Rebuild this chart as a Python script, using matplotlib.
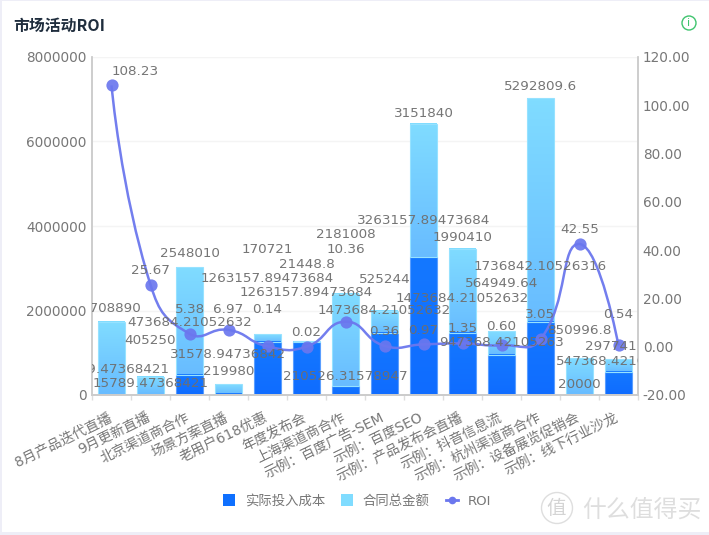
# plot.py - market activity ROI chart, stacked bars with a smooth ROI line
import matplotlib
matplotlib.use("Agg")
import matplotlib.pyplot as plt
import numpy as np
from matplotlib.colors import LinearSegmentedColormap
from matplotlib.lines import Line2D
from matplotlib.patches import Circle, PathPatch, Rectangle
from matplotlib.path import Path
from matplotlib.transforms import ScaledTranslation

plt.rcParams['font.family'] = ['DejaVu Sans', 'Noto Sans CJK SC']

# Data
categories = ["8月产品迭代直播", "9月更新直播", "北京渠道商合作", "场景方案直播", "老用户618优惠",
              "年度发布会", "上海渠道商合作", "示例：百度广告-SEM", "示例：百度SEO", "示例：产品发布会直播",
              "示例：抖音信息流", "示例：杭州渠道商合作", "示例：设备展览促销会", "示例：线下行业沙龙"]
actual_cost = [15789.47368421, 15789.47368421, 473684.21052632, 31578.94736842,
               1263157.89473684, 1263157.89473684, 210526.31578947, 1473684.21052632,
               3263157.89473684, 1473684.21052632, 947368.42105263, 1736842.10526316,
               20000, 547368.42105263]
contract_total = [1708890, 405250, 2548010, 219980, 170721, 21448.8, 2181008, 525244,
                  3151840, 1990410, 564949.64, 5292809.6, 850996.8, 297741]
roi = [108.23, 25.67, 5.38, 6.97, 0.14, 0.02, 10.36, 0.36, 0.97, 1.35, 0.60, 3.05, 42.55, 0.54]
left_ticks = [0, 2000000, 4000000, 6000000, 8000000]
right_ticks = [-20, 0, 20, 40, 60, 80, 100, 120]

# Label lift above the anchor, in pixels (labels in the original are shoved around)
lift_contract = [14, 37, 14, 13, 85, 76, 59, 31, 10, 11, 48, 11, 28, 13]
lift_actual = [25, 11, 52, 39, 63, 49, 10, 22, 37, 34, 12, 55, 10, 10]
lift_roi = [14, 14, 24, 20, 37, 14, 72, 14, 14, 15, 19, 25, 14, 31]

TEXT = '#6e6e6e'
LINE = '#6b77ee'
W, H = 709, 535
PX = 72 / 100


def gradient_bars(ax, bars, top_color, bottom_color, edge):
    cmap = LinearSegmentedColormap.from_list('bar', [top_color, bottom_color])
    for bar in bars:
        bar.set_facecolor('none')
        bar.set_edgecolor(edge)
        bar.set_linewidth(0.8)
        x0, y0 = bar.get_x(), bar.get_y()
        x1, y1 = x0 + bar.get_width(), y0 + bar.get_height()
        ax.imshow(np.linspace(0, 1, 64).reshape(-1, 1), cmap=cmap, aspect='auto',
                  extent=(x0, x1, y0, y1), origin='upper', zorder=1.5)
        bar.set_zorder(2)


def smooth_path(ax, xs, ys, smooth=0.5):
    # same idea as the echarts smooth line: control points along the neighbours' chord
    pts = ax.transData.transform(np.column_stack([xs, ys]))
    n = len(pts)
    verts = [pts[0]]
    codes = [Path.MOVETO]
    out_cp = pts[0]
    for i in range(1, n):
        p = pts[i]
        if i < n - 1:
            prev_len = np.hypot(*(p - pts[i - 1]))
            next_len = np.hypot(*(pts[i + 1] - p))
            v = (pts[i + 1] - pts[i - 1]) * smooth
            total = prev_len + next_len
            in_cp = p - v * prev_len / total
            next_out = p + v * next_len / total
        else:
            in_cp = p
            next_out = p
        verts += [out_cp, in_cp, p]
        codes += [Path.CURVE4, Path.CURVE4, Path.CURVE4]
        out_cp = next_out
    return Path(ax.transData.inverted().transform(np.array(verts)), codes)


fig = plt.figure(figsize=(W / 100, H / 100), dpi=100, facecolor='#eeeef7')
fig.add_artist(Rectangle((2 / W, 3 / H), 1, 1 - 4 / H, transform=fig.transFigure,
                         facecolor='white', edgecolor='none', zorder=-5))

ax = fig.add_axes([92 / W, (H - 395) / H, 546 / W, 338 / H])
ax.set_facecolor('none')
ax2 = ax.twinx()
ax2.set_facecolor('none')

x = np.arange(len(categories))
actual = np.array(actual_cost)
contract = np.array(contract_total)

dark = ax.bar(x, actual, width=0.667)
light = ax.bar(x, contract, width=0.667, bottom=actual)
gradient_bars(ax, light, '#80dcff', '#68bcff', '#96e2ff')
gradient_bars(ax, dark, '#1478ff', '#0f6cff', '#5a9eff')

ax.set_xlim(-0.5, len(categories) - 0.5)
ax.set_ylim(0, 8000000)
ax2.set_ylim(-20, 120)

ax.set_yticks(left_ticks)
ax.set_yticklabels([str(v) for v in left_ticks])
ax2.set_yticks(right_ticks)
ax2.set_yticklabels(['%.2f' % v for v in right_ticks])
ax.tick_params(axis='y', length=0, pad=4, labelsize=9.8, labelcolor='#777777')
ax2.tick_params(axis='y', length=0, pad=3.5, labelsize=9.8, labelcolor='#777777')

ax.set_xticks(x)
ax.set_xticklabels(categories, rotation=26, ha='right', rotation_mode='anchor',
                   fontsize=10, color='#777777')
ax.set_xticks(np.arange(len(categories) + 1) - 0.5, minor=True)
ax.tick_params(axis='x', which='major', length=0, pad=11)
ax.tick_params(axis='x', which='minor', length=3.6, color='#dddddd', width=1)
shift = ScaledTranslation(-4 / 100, 0, fig.dpi_scale_trans)
for lab in ax.get_xticklabels():
    lab.set_transform(lab.get_transform() + shift)
ax.set_axisbelow(True)
ax.grid(axis='y', color='#f4f4f4', linewidth=1)

for a in (ax, ax2):
    a.spines['top'].set_visible(False)
    a.spines['left'].set_color('#cccccc')
    a.spines['right'].set_color('#cccccc')
    a.spines['bottom'].set_color('#cccccc')
    a.spines['left'].set_linewidth(1.1)
    a.spines['right'].set_linewidth(1.1)
    a.spines['bottom'].set_linewidth(1.4)

# ROI line on the right axis
ax2.add_patch(PathPatch(smooth_path(ax2, x, roi), facecolor='none', edgecolor=LINE,
                        linewidth=1.8, alpha=0.95, zorder=3))
ax2.plot(x, roi, linestyle='none', marker='o', markersize=8.8, color=LINE,
         markeredgewidth=0, alpha=0.92, zorder=4)


def add_label(xi, yi, lift, text, coords, dx=0):
    # clipped to the plot area, long labels are cut at both axes in the original
    ax2.annotate(text, xy=(xi, yi), xycoords=coords, xytext=(dx * PX, lift * PX),
                 textcoords='offset points', ha='center', va='center', fontsize=9.7,
                 color=TEXT, alpha=0.95, annotation_clip=False, clip_on=True, zorder=6)


for i in x:
    # last contract label and first ROI label sit off centre in the original
    add_label(i, actual[i] + contract[i], lift_contract[i], f'{contract[i]:.10g}', ax.transData,
              dx=-8 if i == len(x) - 1 else 0)
    add_label(i, actual[i], lift_actual[i], ('%.8f' % actual[i]).rstrip('0').rstrip('.'), ax.transData)
    add_label(i, roi[i], lift_roi[i], '%.2f' % roi[i], ax2.transData, dx=24 if i == 0 else 0)

# Legend
handles = [Rectangle((0, 0), 1, 1, facecolor='#0f70ff', edgecolor='none'),
           Rectangle((0, 0), 1, 1, facecolor='#80dcff', edgecolor='none'),
           Line2D([0], [0], color=LINE, linewidth=2, marker='o', markersize=5.5,
                  markeredgewidth=0)]
fig.legend(handles, ['实际投入成本', '合同总金额', 'ROI'], ncol=3, frameon=False,
           loc='center', bbox_to_anchor=(357 / W, (H - 501) / H), fontsize=9.6,
           labelcolor='#777777', handlelength=0.9, handleheight=0.9, handletextpad=0.75,
           columnspacing=1.2)

# Title, info icon and watermark
fig.text(13 / W, (H - 26) / H, '市场活动ROI', fontsize=11.4, fontweight='bold', color='#1f2d3d',
         family=['Noto Sans CJK SC'], va='center')
fig.add_artist(Circle((689 / 100, (H - 23) / 100), 0.07, transform=fig.dpi_scale_trans,
                      facecolor='none', edgecolor='#3fc46e', linewidth=1))
fig.text(689 / W, (H - 23) / H, 'i', fontsize=8, color='#3fc46e', ha='center', va='center')
fig.add_artist(Circle((557 / 100, (H - 508) / 100), 0.155, transform=fig.dpi_scale_trans,
                      facecolor='none', edgecolor='#dedede', linewidth=1))
fig.text(556 / W, (H - 508) / H, '值', fontsize=14, color='#d4d4d4', ha='center', va='center',
         family=['Noto Sans CJK SC'])
fig.text(582 / W, (H - 510) / H, '什么值得买', fontsize=17.2, color='#dedede', va='center',
         family=['Noto Sans CJK SC'], fontweight='light')

fig.savefig('out.png', dpi=100, facecolor=fig.get_facecolor())
